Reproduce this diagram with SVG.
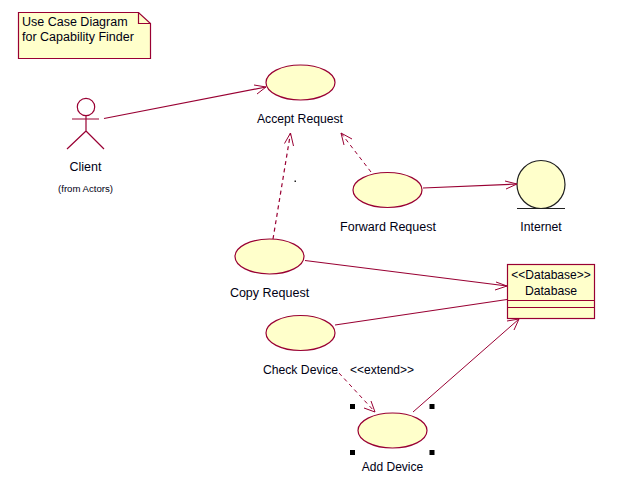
<svg xmlns="http://www.w3.org/2000/svg" width="638" height="493" viewBox="0 0 638 493">
<style>
text{font-family:"Liberation Sans",Arial,sans-serif;font-size:12.5px;fill:#000014}
.m{text-anchor:middle}
.n{font-size:12px}
.c{font-size:12.2px}
.s{fill:#ffffcb;stroke:#990033;stroke-width:1.2}
.k{fill:#ffffcb;stroke:#202020;stroke-width:1.2}
.l{fill:none;stroke:#990033;stroke-width:1.2}
.t{stroke-width:1}
.d{stroke-dasharray:4 3.500}
.a{fill:none;stroke:#990033;stroke-width:1}
</style>
<rect width="638" height="493" fill="#fff"/>
<g id="note">
<path class="s" d="M18.5 12.5H138.5L150.500 23.500V58.500H18.500Z"/>
<path class="l" d="M138.500 12.500V23.500H150.500"/>
<text x="22" y="26">Use Case Diagram</text>
<text x="22" y="41">for Capability Finder</text>
</g>
<g id="client">
<circle class="l" cx="86" cy="107" r="8.700"/>
<path class="l" d="M86 116V131M72 119H99M86 131L67 149M86 131L104 149"/>
<text class="m" x="85.500" y="171">Client</text>
<text class="m" x="85.500" y="192" style="font-size:9.600px">(from Actors)</text>
</g>
<g id="accept-request">
<ellipse class="s" cx="300.500" cy="82.500" rx="34.500" ry="17.500"/>
<text class="m c" x="300" y="123">Accept Request</text>
</g>
<g id="forward-request">
<ellipse class="s" cx="387.500" cy="190" rx="34.500" ry="17.500"/>
<text class="m" x="388" y="231">Forward Request</text>
</g>
<g id="internet">
<circle class="k" cx="541" cy="184.500" r="24"/>
<path class="k" d="M517 208.500H565"/>
<text class="m c" x="541" y="231">Internet</text>
</g>
<g id="database">
<rect class="s" x="507.500" y="264.500" width="87" height="54"/>
<path class="l" d="M507.500 300.500H594.500M507.500 307.500H594.500"/>
<text class="m n" x="551" y="279">&lt;&lt;Database&gt;&gt;</text>
<text class="m c" x="551" y="295">Database</text>
</g>
<g id="copy-request">
<ellipse class="s" cx="269.500" cy="256.500" rx="34.500" ry="17.500"/>
<text class="m" x="269.500" y="297">Copy Request</text>
</g>
<g id="check-device">
<ellipse class="s" cx="300.500" cy="333" rx="34.500" ry="17.500"/>
<text class="m c" x="300.500" y="374">Check Device</text>
</g>
<g id="add-device">
<ellipse class="s" cx="392.500" cy="430.500" rx="34.500" ry="17.500"/>
<text class="m n" x="392.500" y="471">Add Device</text>
<path fill="#000" d="M350 404h5v5h-5zM429.500 404h5v5h-5zM350 450h5v5h-5zM429.500 450h5v5h-5z"/>
</g>
<g id="connectors">
<path class="l" d="M104 118.500L266 87"/>
<path class="a" d="M254 85L266 87L257 94"/>
<path class="l d" d="M273 239L290.500 133"/>
<path class="a" d="M284.500 143.500L290.500 133L293.500 146"/>
<path class="l d t" d="M371 172L341 133"/>
<path class="a" d="M344 145L341 133L352 139"/>
<path class="l" d="M423 188L517 184"/>
<path class="a" d="M505 181L517 184L506 189"/>
<path class="l" d="M305 260.500L507 286"/>
<path class="a" d="M496 282L507 286L495 290"/>
<path class="l" d="M335 325L507 299.500"/>
<path class="l d t" d="M339 373L375 412"/>
<path class="a" d="M364 408L375 412L371 401"/>
<path class="l t" d="M413 412L519 319"/>
<path class="a" d="M507 321L519 319L514 330"/>
<text class="m n" x="382" y="374">&lt;&lt;extend&gt;&gt;</text>
<path fill="#222" d="M294.500 180.500h1.500v1.500h-1.500z"/>
</g>
</svg>
